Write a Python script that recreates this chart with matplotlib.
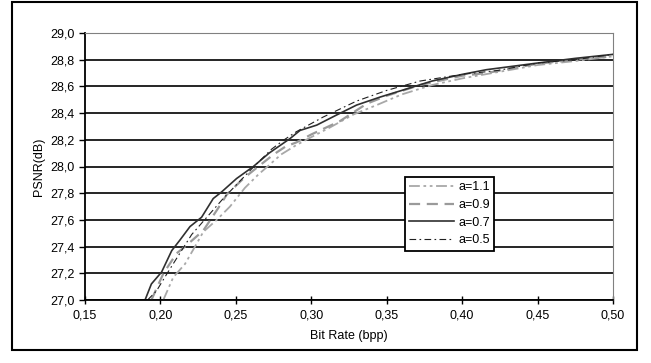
import matplotlib
matplotlib.use("Agg")
import matplotlib.pyplot as plt
from matplotlib.patches import Rectangle
from matplotlib.ticker import FuncFormatter

plt.rcParams['font.family'] = ['Liberation Sans', 'DejaVu Sans']

# curves: (bit rate, PSNR)
x_11 = [0.2019, 0.2085, 0.2163, 0.2229, 0.2284, 0.2373, 0.2461, 0.256, 0.2649,
        0.270, 0.280, 0.290, 0.30, 0.312, 0.328, 0.3433, 0.36, 0.38, 0.40,
        0.425, 0.45, 0.475, 0.50]
y_11 = [27.0, 27.17, 27.27, 27.4, 27.51, 27.6, 27.7, 27.84, 27.94,
        27.99, 28.09, 28.16, 28.22, 28.29, 28.39, 28.46, 28.54, 28.61, 28.66,
        28.71, 28.76, 28.79, 28.825]

x_09 = [0.194, 0.202, 0.2108, 0.2163, 0.2284, 0.2384, 0.244, 0.255, 0.2649,
        0.275, 0.283, 0.290, 0.30, 0.319, 0.3367, 0.35, 0.372, 0.40, 0.416,
        0.45, 0.475, 0.50]
y_09 = [27.0, 27.2, 27.35, 27.4, 27.52, 27.69, 27.79, 27.91, 28.0,
        28.09, 28.15, 28.18, 28.24, 28.34, 28.47, 28.53, 28.61, 28.68, 28.7,
        28.77, 28.8, 28.825]

x_07 = [0.1898, 0.194, 0.2008, 0.2075, 0.213, 0.2196, 0.2273, 0.235, 0.2406,
        0.2505, 0.2616, 0.272, 0.286, 0.2925, 0.3036, 0.3168, 0.330, 0.3456,
        0.36, 0.38, 0.40, 0.416, 0.45, 0.475, 0.50]
y_07 = [27.0, 27.12, 27.21, 27.37, 27.45, 27.55, 27.62, 27.76, 27.81,
        27.91, 28.0, 28.1, 28.21, 28.27, 28.31, 28.386, 28.46, 28.52,
        28.57, 28.64, 28.69, 28.725, 28.775, 28.81, 28.84]

x_05 = [0.1915, 0.1975, 0.2045, 0.2207, 0.2416, 0.262, 0.2737, 0.282, 0.290,
        0.3078, 0.330, 0.35, 0.372, 0.40, 0.424, 0.45, 0.475, 0.50]
y_05 = [27.0, 27.07, 27.2, 27.49, 27.76, 28.0, 28.13, 28.2, 28.26,
        28.37, 28.49, 28.57, 28.64, 28.69, 28.72, 28.775, 28.8, 28.84]

fig = plt.figure(figsize=(6.51, 3.63), dpi=100)
fig.patches.append(Rectangle((12 / 651, 1 - 350 / 363), 625 / 651, 348 / 363,
                             transform=fig.transFigure, fill=False,
                             edgecolor='black', linewidth=1.5))
ax = fig.add_axes([85 / 651, 1 - 300 / 363, 528 / 651, 267 / 363])

ax.plot(x_11, y_11, color='#a8a8a8', linewidth=1.3, dashes=(6, 2, 1.5, 2, 1.5, 2), label='a=1.1')
ax.plot(x_09, y_09, color='#9a9a9a', linewidth=1.6, dashes=(5, 3), label='a=0.9')
ax.plot(x_07, y_07, color='#303030', linewidth=1.2, label='a=0.7')
ax.plot(x_05, y_05, color='#202020', linewidth=0.8, dashes=(6, 3, 1.5, 3), label='a=0.5')

ax.set_xlim(0.15, 0.50)
ax.set_ylim(27.0, 29.0)
ax.set_xticks([0.15, 0.20, 0.25, 0.30, 0.35, 0.40, 0.45, 0.50])
ax.set_yticks([27.0 + 0.2 * i for i in range(11)])
ax.xaxis.set_major_formatter(FuncFormatter(lambda v, p: f"{v:.2f}".replace('.', ',')))
ax.yaxis.set_major_formatter(FuncFormatter(lambda v, p: f"{v:.1f}".replace('.', ',')))
ax.tick_params(axis='both', labelsize=9, length=4, width=1.0, direction='out')
ax.tick_params(axis='x', direction='inout', length=6, pad=4)
ax.grid(axis='y', color='black', linewidth=1.2)
ax.set_axisbelow(True)
for s in ['top', 'right']:
    ax.spines[s].set_color('#808080')
    ax.spines[s].set_linewidth(0.8)
ax.spines['left'].set_linewidth(1.3)
ax.spines['bottom'].set_linewidth(1.3)

ax.set_xlabel('Bit Rate (bpp)', fontsize=9, labelpad=6)
ax.set_ylabel('PSNR(dB)', fontsize=9, labelpad=4)

leg = ax.legend(loc='upper left', bbox_to_anchor=((405 - 85) / 528, (300 - 177) / 267),
                fontsize=9, handlelength=3.6, handletextpad=0.3, borderpad=0.35,
                labelspacing=0.45, fancybox=False, framealpha=1, edgecolor='black',
                borderaxespad=0)
leg.get_frame().set_linewidth(1.3)

fig.savefig('out.png', dpi=100)
